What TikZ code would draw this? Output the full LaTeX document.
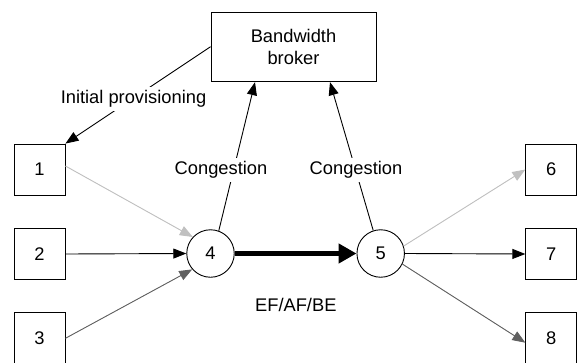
\documentclass[tikz,border=0pt]{standalone}
\usepackage{fontspec}
\setmainfont{Liberation Sans}
\usetikzlibrary{arrows.meta}
\definecolor{lightg}{RGB}{192,192,192}
\definecolor{darkg}{RGB}{96,96,96}
\begin{document}
\begin{tikzpicture}[x=1pt,y=-1pt,
  every node/.style={font=\fontsize{18.3}{22}\selectfont},
  sqbox/.style={draw,line width=0.9pt,minimum width=51pt,minimum height=51pt,inner sep=0pt},
  rnode/.style={draw,circle,line width=0.9pt,minimum size=47.5pt,inner sep=0pt},
  conn/.style={line width=0.9pt,-{Triangle[length=13pt,width=10pt]}},
  lbl/.style={fill=white,inner sep=3pt}]
\useasboundingbox (0,0) rectangle (579,362);
\node[draw,line width=0.9pt,minimum width=165pt,minimum height=69pt,align=center,inner sep=0pt] (broker) at (293.5,47.2) {Bandwidth\\broker};
\node[sqbox] (n1) at (39.5,169.5) {1};
\node[sqbox] (n2) at (39.5,254) {2};
\node[sqbox] (n3) at (39.5,338.3) {3};
\node[rnode] (n4) at (210.5,253.5) {4};
\node[rnode] (n5) at (380.7,253.5) {5};
\node[sqbox] (n6) at (551.3,169.5) {6};
\node[sqbox] (n7) at (551.3,254) {7};
\node[sqbox] (n8) at (551.3,338.3) {8};
% edges
\draw[conn] ([yshift=0.5pt]broker.west) -- (n1.north east);
\draw[conn] (n4.70) -- ([xshift=-38.5pt]broker.south);
\draw[conn] (n5.108) -- ([xshift=36.5pt]broker.south);
\draw[conn,draw=lightg,fill=lightg] ([yshift=3.5pt]n1.east) -- (n4.137);
\draw[conn] (n2.east) -- (n4.west);
\draw[conn,draw=darkg,fill=darkg] (n3.east) -- (n4.221.6);
\draw[line width=5pt,-{Triangle[length=18pt,width=19pt]}] (n4.east) -- (n5.west);
\draw[conn,draw=lightg,fill=lightg] (n5.18.6) -- (n6.west);
\draw[conn] (n5.east) -- (n7.west);
\draw[conn,draw=darkg,fill=darkg] (n5.-26.7) -- ([yshift=-4.4pt]n8.west);
% labels
\node[lbl] (lip) at (133.5,99) {Initial provisioning};
\node[lbl] (lc1) at (221,170) {Congestion};
\node[lbl] (lc2) at (356,170) {Congestion};
\node (lef) at (295.8,305) {EF/AF/BE};
\end{tikzpicture}
\end{document}
